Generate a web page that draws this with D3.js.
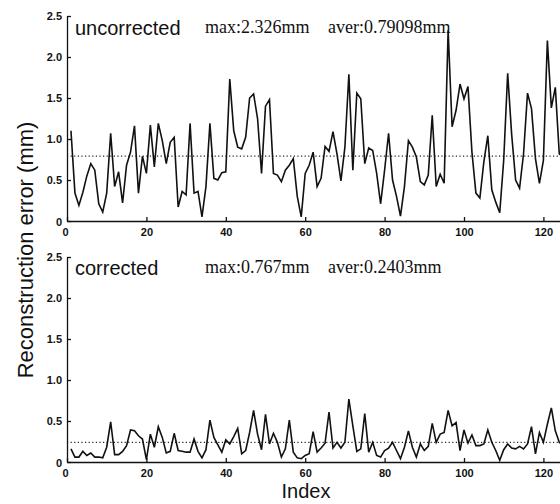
<!DOCTYPE html>
<html>
<head>
<meta charset="utf-8">
<script src="https://cdn.jsdelivr.net/npm/d3@7"></script>
<style>
  body { margin: 0; background: #fff; }
  svg { display: block; }
</style>
</head>
<body>
<svg id="chart" width="560" height="504"></svg>
<script>
// reconstruction error per sample index (mm)
const uncorrected = [
  1.10, 0.34, 0.19, 0.35, 0.55, 0.70, 0.62, 0.21, 0.11, 0.34,
  1.07, 0.42, 0.60, 0.22, 0.68, 0.84, 1.16, 0.34, 0.79, 0.58,
  1.17, 0.66, 1.19, 0.98, 0.70, 0.96, 1.02, 0.17, 0.36, 0.32,
  1.19, 0.34, 0.36, 0.05, 0.42, 1.19, 0.52, 0.50, 0.59, 0.60,
  1.73, 1.10, 0.90, 0.88, 1.02, 1.50, 1.55, 1.25, 0.58, 1.40,
  1.48, 0.58, 0.56, 0.48, 0.62, 0.68, 0.76, 0.30, 0.05, 0.58,
  0.68, 0.84, 0.42, 0.52, 0.91, 0.85, 1.09, 0.82, 0.49, 0.90,
  1.79, 0.62, 1.56, 1.49, 0.70, 0.89, 0.86, 0.58, 0.21, 0.62,
  1.07, 0.50, 0.30, 0.06, 0.42, 0.98, 0.90, 0.78, 0.48, 0.44,
  0.56, 1.29, 0.42, 0.57, 0.46, 2.326, 1.15, 1.35, 1.67, 1.49,
  1.64, 0.84, 0.34, 0.28, 0.72, 1.04, 0.38, 0.23, 0.10, 0.74,
  1.80, 1.06, 0.50, 0.40, 0.82, 1.56, 1.37, 0.76, 0.46, 0.74,
  2.20, 1.38, 1.63, 0.82, 0.78
];
const corrected = [
  0.16, 0.06, 0.06, 0.13, 0.08, 0.11, 0.06, 0.06, 0.05, 0.18,
  0.49, 0.09, 0.09, 0.13, 0.20, 0.39, 0.38, 0.32, 0.28, 0.03,
  0.34, 0.18, 0.43, 0.30, 0.11, 0.13, 0.35, 0.14, 0.13, 0.12,
  0.12, 0.28, 0.13, 0.05, 0.15, 0.51, 0.30, 0.21, 0.12, 0.27,
  0.22, 0.31, 0.41, 0.10, 0.14, 0.36, 0.63, 0.34, 0.15, 0.58,
  0.22, 0.35, 0.24, 0.06, 0.16, 0.51, 0.12, 0.05, 0.04, 0.08,
  0.10, 0.37, 0.12, 0.17, 0.23, 0.61, 0.17, 0.24, 0.17, 0.24,
  0.767, 0.44, 0.13, 0.16, 0.59, 0.12, 0.24, 0.08, 0.06, 0.14,
  0.17, 0.24, 0.14, 0.04, 0.18, 0.38, 0.18, 0.06, 0.22, 0.14,
  0.19, 0.47, 0.24, 0.34, 0.36, 0.63, 0.44, 0.48, 0.14, 0.39,
  0.23, 0.33, 0.20, 0.20, 0.22, 0.39, 0.24, 0.14, 0.02, 0.15,
  0.22, 0.17, 0.16, 0.19, 0.16, 0.22, 0.43, 0.10, 0.36, 0.24,
  0.46, 0.66, 0.38, 0.24, 0.20
];
const panelNames = ["uncorrected", "corrected"];
const maxLabels = ["max:2.326mm", "max:0.767mm"];
const averLabels = ["aver:0.79098mm", "aver:0.2403mm"];
const averValues = [0.79098, 0.2403];
const yTicks = [0, 0.5, 1.0, 1.5, 2.0, 2.5];
const xTicks = [0, 20, 40, 60, 80, 100, 120];

const svg = d3.select("#chart");
const sans = "Arial, 'Liberation Sans', Helvetica, sans-serif";
const serif = "'Times New Roman', 'Liberation Serif', Times, serif";

// x scale shared, runs a bit past the right edge (plot is clipped in the original)
const x = d3.scaleLinear().domain([0, 125]).range([67, 563.25]);

const panels = [
  { data: uncorrected, y0: 221, y1: 16, textY: 35 },
  { data: corrected, y0: 462, y1: 257, textY: 275 }
];

const line = d3.line();

panels.forEach((p, i) => {
  const y = d3.scaleLinear().domain([0, 2.5]).range([p.y0, p.y1]);
  const g = svg.append("g");

  // y axis, ticks pointing inward
  const yAxis = g.append("g")
    .attr("transform", `translate(${x(0)},0)`)
    .call(d3.axisLeft(y).tickValues(yTicks).tickSizeInner(-4).tickSizeOuter(0).tickPadding(5)
      .tickFormat(d => d === 0 ? "0" : d.toFixed(1)));

  const xAxis = g.append("g")
    .attr("transform", `translate(0,${p.y0})`)
    .call(d3.axisBottom(x).tickValues(xTicks).tickSizeInner(-4).tickSizeOuter(0).tickPadding(7)
      .tickFormat(d3.format("d")));

  [yAxis, xAxis].forEach(a => {
    a.selectAll("path, line").attr("stroke", "#111").attr("stroke-width", 1.3);
    a.selectAll("text")
      .attr("fill", "#111")
      .style("font-family", sans)
      .style("font-size", "11px")
      .style("font-weight", "bold");
  });
  // nudge the y "0" label down a touch like the original
  yAxis.selectAll(".tick text").filter(d => d === 0).attr("dy", "0.45em");
  xAxis.selectAll(".tick text").filter(d => d === 0).attr("dx", "-2");

  // mean (dotted)
  g.append("line")
    .attr("x1", x(0)).attr("x2", 560)
    .attr("y1", y(averValues[i])).attr("y2", y(averValues[i]))
    .attr("stroke", "#222")
    .attr("stroke-width", 1.2)
    .attr("stroke-dasharray", "1.2,2.4");

  // error line
  g.append("path")
    .attr("d", line(p.data.map((v, k) => [x(k + 1), y(v)])))
    .attr("fill", "none")
    .attr("stroke", "#111")
    .attr("stroke-width", 1.6)
    .attr("stroke-linejoin", "miter");

  g.append("text")
    .attr("x", 75).attr("y", p.textY)
    .style("font-family", sans)
    .style("font-size", "20px")
    .attr("fill", "#111")
    .text(panelNames[i]);

  g.append("text")
    .attr("x", 205).attr("y", p.textY - 2)
    .style("font-family", serif)
    .style("font-size", "18px")
    .attr("fill", "#111")
    .text(maxLabels[i]);

  g.append("text")
    .attr("x", 328).attr("y", p.textY - 2)
    .style("font-family", serif)
    .style("font-size", "18px")
    .attr("fill", "#111")
    .text(averLabels[i]);
});

// axis titles
svg.append("text")
  .attr("transform", "translate(33,250) rotate(-90)")
  .attr("text-anchor", "middle")
  .style("font-family", sans)
  .style("font-size", "22px")
  .attr("fill", "#111")
  .text("Reconstruction error (mm)");

svg.append("text")
  .attr("x", 306).attr("y", 498)
  .attr("text-anchor", "middle")
  .style("font-family", sans)
  .style("font-size", "20px")
  .attr("fill", "#111")
  .text("Index");
</script>
</body>
</html>
